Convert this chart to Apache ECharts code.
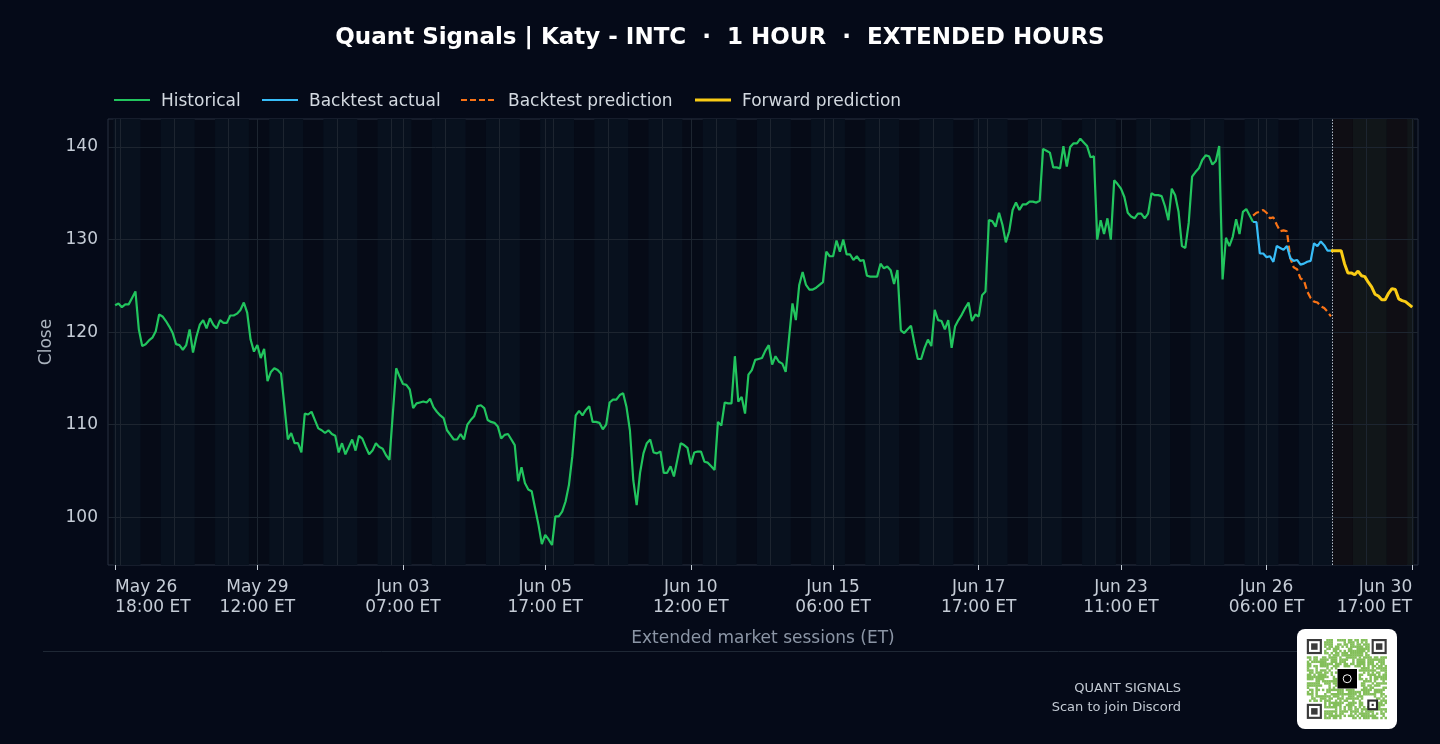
<!DOCTYPE html>
<html>
<head>
<meta charset="utf-8">
<title>Quant Signals | Katy - INTC</title>
<script src="https://cdn.jsdelivr.net/npm/echarts@6/dist/echarts.min.js"></script>
<style>
  html, body { margin: 0; padding: 0; background: #050a18; }
  #chart { width: 1440px; height: 744px; }
</style>
</head>
<body>
<div id="chart"></div>
<script>
// bar index 0 = May 26 18:00 ET, 16 hourly bars per day (04:00 - 19:00)
const historicalStart = 0
const historical = [
  122.9, 123.1, 122.7, 123.0, 123.0, 123.7, 124.4, 120.3, 118.5, 118.7,
  119.1, 119.4, 120.1, 121.9, 121.7, 121.2, 120.6, 119.9, 118.7, 118.6,
  118.1, 118.6, 120.3, 117.8, 119.5, 120.8, 121.3, 120.4, 121.5, 120.8,
  120.4, 121.3, 121.0, 121.0, 121.8, 121.8, 122.0, 122.4, 123.2, 122.1,
  119.2, 117.9, 118.6, 117.2, 118.2, 114.7, 115.7, 116.1, 115.9, 115.5,
  112.0, 108.4, 109.1, 108.0, 108.0, 107.0, 111.2, 111.1, 111.4, 110.5,
  109.6, 109.4, 109.1, 109.4, 109.0, 108.8, 107.0, 108.0, 106.8, 107.6,
  108.4, 107.2, 108.8, 108.5, 107.6, 106.8, 107.2, 108.0, 107.6, 107.4,
  106.7, 106.2, 111.2, 116.1, 115.2, 114.4, 114.3, 113.8, 111.8, 112.3,
  112.4, 112.5, 112.4, 112.8, 111.9, 111.4, 111.0, 110.7, 109.4, 108.9,
  108.4, 108.4, 109.0, 108.4, 110.0, 110.5, 110.9, 112.0, 112.1, 111.8,
  110.5, 110.3, 110.2, 109.8, 108.5, 108.9, 109.0, 108.4, 107.8, 103.9,
  105.4, 103.7, 103.0, 102.8, 101.0, 99.2, 97.1, 98.1, 97.6, 97.0,
  100.1, 100.1, 100.6, 101.7, 103.5, 106.6, 111.0, 111.5, 111.0, 111.6,
  112.0, 110.3, 110.3, 110.2, 109.5, 110.0, 112.4, 112.7, 112.7, 113.2,
  113.4, 111.9, 109.4, 104.0, 101.3, 104.8, 106.9, 108.0, 108.4, 107.0,
  106.9, 107.1, 104.8, 104.8, 105.5, 104.4, 106.2, 108.0, 107.8, 107.5,
  105.7, 107.0, 107.1, 107.1, 106.0, 105.9, 105.5, 105.1, 110.3, 109.9,
  112.4, 112.3, 112.3, 117.4, 112.5, 113.0, 111.2, 115.4, 115.9, 117.0,
  117.1, 117.2, 118.0, 118.6, 116.5, 117.4, 116.8, 116.6, 115.7, 119.4,
  123.1, 121.3, 125.1, 126.5, 125.1, 124.6, 124.6, 124.8, 125.1, 125.4,
  128.7, 128.2, 128.2, 129.9, 128.7, 130.0, 128.4, 128.4, 127.8, 128.2,
  127.7, 127.8, 126.1, 126.0, 126.0, 126.0, 127.4, 126.9, 127.1, 126.7,
  125.2, 126.7, 120.2, 119.9, 120.3, 120.7, 118.8, 117.1, 117.1, 118.3,
  119.2, 118.5, 122.4, 121.3, 121.2, 120.3, 121.3, 118.3, 120.6, 121.3,
  121.9, 122.6, 123.2, 121.2, 121.9, 121.7, 124.0, 124.4, 132.1, 132.0,
  131.4, 132.9, 131.6, 129.7, 130.9, 133.2, 134.0, 133.2, 133.8, 133.8,
  134.1, 134.1, 134.0, 134.2, 139.8, 139.6, 139.4, 137.8, 137.8, 137.7,
  140.1, 137.9, 140.0, 140.4, 140.4, 140.9, 140.5, 140.1, 138.9, 139.0,
  130.0, 132.1, 130.6, 132.3, 130.0, 136.4, 136.0, 135.5, 134.6, 132.9,
  132.5, 132.3, 132.8, 132.8, 132.3, 132.8, 135.0, 134.8, 134.8, 134.7,
  133.6, 132.1, 135.5, 134.8, 133.0, 129.3, 129.1, 131.8, 136.8, 137.3,
  137.7, 138.6, 139.1, 139.0, 138.1, 138.5, 140.1, 125.7, 130.2, 129.3,
  130.3, 132.2, 130.6, 133.0, 133.3, 132.6, 131.9
]

const backtestStart = 336
const backtestActual = [
  131.9, 131.9, 128.5, 128.5, 128.1, 128.2, 127.6, 129.3, 129.1, 128.9,
  129.3, 128.0, 127.7, 127.8, 127.3, 127.4, 127.6, 127.7, 129.6, 129.3,
  129.8, 129.4, 128.8, 128.8
]
const backtestPred = [
  132.6, 132.9, 133.0, 133.2, 132.9, 132.3, 132.4, 131.6, 130.9, 131.0,
  130.9, 128.0, 127.0, 126.8, 125.8, 125.6, 124.4, 123.7, 123.3, 123.2,
  122.8, 122.6, 122.2, 121.7
]

const forwardStart = 359
const forwardPred = [
  128.8, 128.8, 128.8, 128.8, 127.4, 126.4, 126.4, 126.2, 126.6, 126.1,
  126.0, 125.4, 124.9, 124.1, 123.9, 123.5, 123.5, 124.2, 124.7, 124.6,
  123.6, 123.4, 123.3, 123.0, 122.7
]

const xTickIdx = [0, 42, 85, 127, 170, 212, 255, 297, 340, 383]
const xTickLabels = [
  'May 26\n18:00 ET', 'May 29\n12:00 ET', 'Jun 03\n07:00 ET', 'Jun 05\n17:00 ET',
  'Jun 10\n12:00 ET', 'Jun 15\n06:00 ET', 'Jun 17\n17:00 ET', 'Jun 23\n11:00 ET',
  'Jun 26\n06:00 ET', 'Jun 30\n17:00 ET'
]
const yTicks = [100, 110, 120, 130, 140]

const lastIdx = 383
const nowIdx = 359.5

const COLORS = {
  bg: '#050a18',
  plot: '#060b17',
  grid: '#1d2530',
  frame: '#283140',
  tick: '#c5ccd6',
  hist: '#22c55e',
  actual: '#38bdf8',
  pred: '#f97316',
  fwd: '#facc15'
}

const GRID = { left: 108, top: 119, width: 1310, height: 446 }
const X_LABEL_MARGIN = 13

// session of a bar: 2 post-market bars on the first day, then 04-09 pre, 10-15 regular, 16-19 post
function sessionOf(i) {
  if (i < 2) return 'ext'
  const h = 4 + ((i - 2) % 16)
  return (h >= 10 && h < 16) ? 'reg' : 'ext'
}

function bandColor(kind, future) {
  if (future) return kind === 'reg' ? '#0f0e14' : '#111619'
  return kind === 'reg' ? null : '#08111e'
}

// build the shaded session bands
const bands = []
let segStart = 0
for (let i = 1; i <= lastIdx + 1; i++) {
  const prevKey = sessionOf(i - 1) + (i - 1 > nowIdx ? 'f' : '')
  const key = i <= lastIdx ? sessionOf(i) + (i > nowIdx ? 'f' : '') : null
  if (key !== prevKey) {
    const c = bandColor(sessionOf(i - 1), i - 1 > nowIdx)
    if (c) {
      bands.push([
        { xAxis: segStart - 0.5, itemStyle: { color: c } },
        { xAxis: i - 0.5 }
      ])
    }
    segStart = i
  }
}

// grid lines: major ticks, day boundaries, price levels
const gridLines = []
xTickIdx.forEach(v => gridLines.push({ xAxis: v }))
for (let b = 1.5; b < lastIdx; b += 16) gridLines.push({ xAxis: b })
yTicks.forEach(v => gridLines.push({ yAxis: v }))

const toPairs = (arr, start) => arr.map((v, i) => [start + i, v])

// legend drawn as graphic
const legendItems = [
  { name: 'Historical', color: COLORS.hist, x: 114, width: 2, dash: null },
  { name: 'Backtest actual', color: COLORS.actual, x: 262, width: 2, dash: null },
  { name: 'Backtest prediction', color: COLORS.pred, x: 461, width: 2, dash: [6, 3] },
  { name: 'Forward prediction', color: COLORS.fwd, x: 695, width: 3, dash: null }
]
const legendGraphics = []
legendItems.forEach(it => {
  legendGraphics.push({
    type: 'line',
    shape: { x1: it.x, y1: 100, x2: it.x + 36, y2: 100 },
    style: { stroke: it.color, lineWidth: it.width, lineDash: it.dash }
  })
  legendGraphics.push({
    type: 'text', x: it.x + 47, y: 102,
    style: { text: it.name, fill: '#d3d9e0', font: '17px "DejaVu Sans"', verticalAlign: 'middle' }
  })
})

// QR-like badge (decoration)
function qrGraphic() {
  const n = 37, size = 2.16, ox = 1306.8, oy = 639
  const children = [{
    type: 'rect', shape: { x: 1297, y: 629, width: 100, height: 100, r: 8 },
    style: { fill: '#ffffff' }
  }]
  const inFinder = (r, c) =>
    (r < 8 && c < 8) || (r < 8 && c > n - 9) || (r > n - 9 && c < 8)
  const inAlign = (r, c) => r >= 26 && r <= 30 && c >= 26 && c <= 30
  const inLogo = (r, c) => r >= 13 && r <= 22 && c >= 14 && c <= 23
  for (let r = 0; r < n; r++) {
    for (let c = 0; c < n; c++) {
      if (inFinder(r, c) || inAlign(r, c) || inLogo(r, c)) continue
      let h = Math.imul(r + 11, 374761393) ^ Math.imul(c + 7, 668265263)
      h = Math.imul(h ^ (h >>> 13), 1274126177)
      if (((h ^ (h >>> 16)) & 7) < 5) {
        children.push({
          type: 'rect',
          shape: { x: ox + c * size, y: oy + r * size, width: size + 0.3, height: size + 0.3 },
          style: { fill: '#84bf5b' }
        })
      }
    }
  }
  const finder = (r0, c0, k, dark) => {
    children.push({ type: 'rect', shape: { x: ox + c0 * size, y: oy + r0 * size, width: k * size, height: k * size }, style: { fill: dark } })
    children.push({ type: 'rect', shape: { x: ox + (c0 + 1) * size, y: oy + (r0 + 1) * size, width: (k - 2) * size, height: (k - 2) * size }, style: { fill: '#ffffff' } })
    children.push({ type: 'rect', shape: { x: ox + (c0 + 2) * size, y: oy + (r0 + 2) * size, width: (k - 4) * size, height: (k - 4) * size }, style: { fill: dark } })
  }
  finder(0, 0, 7, '#3a3a3a')
  finder(0, n - 7, 7, '#3a3a3a')
  finder(n - 7, 0, 7, '#3a3a3a')
  finder(28, 28, 5, '#2a2a2a')
  children.push({ type: 'rect', shape: { x: 1337.5, y: 669, width: 19.5, height: 19.5 }, style: { fill: '#000000' } })
  children.push({ type: 'circle', shape: { cx: 1347.2, cy: 678.7, r: 4 }, style: { fill: 'none', stroke: '#ffffff', lineWidth: 1 } })
  return { type: 'group', children }
}

const chart = echarts.init(document.getElementById('chart'), null, { renderer: 'canvas' })

const option = {
  backgroundColor: COLORS.bg,
  animation: false,
  textStyle: { fontFamily: 'DejaVu Sans' },
  title: {
    text: 'Quant Signals | Katy - INTC  \u00b7  1 HOUR  \u00b7  EXTENDED HOURS',
    left: 'center',
    top: 22,
    textStyle: { color: '#ffffff', fontSize: 23, fontWeight: 'bold', fontFamily: 'DejaVu Sans' }
  },
  grid: {
    left: GRID.left, top: GRID.top, width: GRID.width, height: GRID.height,
    outerBoundsMode: 'none',
    containLabel: false,
    show: true, backgroundColor: COLORS.plot,
    borderColor: COLORS.frame, borderWidth: 1
  },
  xAxis: {
    type: 'value',
    min: -2.1,
    max: 384.7,
    name: 'Extended market sessions (ET)',
    nameLocation: 'middle',
    nameGap: 65,
    nameTextStyle: { color: '#8b95a5', fontSize: 17 },
    axisLine: { show: false },
    splitLine: { show: false },
    axisTick: { customValues: xTickIdx, length: 5, lineStyle: { color: COLORS.tick } },
    axisLabel: {
      customValues: xTickIdx,
      // first and last labels are edge-aligned, drawn below as graphic text
      formatter: v => {
        const k = xTickIdx.indexOf(Math.round(v))
        return (k <= 0 || k === xTickIdx.length - 1) ? '' : xTickLabels[k]
      },
      color: COLORS.tick, fontSize: 17, lineHeight: 20, margin: X_LABEL_MARGIN
    }
  },
  yAxis: {
    type: 'value',
    min: 94.84,
    max: 143.03,
    name: 'Close',
    nameLocation: 'middle',
    nameGap: 50,
    nameTextStyle: { color: '#aab2bd', fontSize: 17 },
    axisLine: { show: false },
    splitLine: { show: false },
    axisTick: { show: true, customValues: yTicks, length: 5, lineStyle: { color: COLORS.tick } },
    axisLabel: { customValues: yTicks, color: COLORS.tick, fontSize: 17, margin: 10, padding: [4, 0, 0, 0] }
  },
  series: [
    {
      name: 'sessions', type: 'line', data: [], z: 1, silent: true,
      markArea: { silent: true, data: bands }
    },
    {
      name: 'gridlines', type: 'line', data: [], z: 2, silent: true,
      markLine: {
        silent: true, symbol: ['none', 'none'], label: { show: false },
        lineStyle: { color: COLORS.grid, width: 1, type: 'solid' },
        data: gridLines
      }
    },
    {
      name: 'now', type: 'line', data: [], z: 3, silent: true,
      markLine: {
        silent: true, symbol: ['none', 'none'], label: { show: false },
        lineStyle: { color: '#b3bcc8', width: 1, type: [1.5, 1.5] },
        data: [{ xAxis: nowIdx }]
      }
    },
    {
      name: 'Historical', type: 'line', z: 5, showSymbol: false,
      data: toPairs(historical, historicalStart),
      lineStyle: { color: COLORS.hist, width: 2.2 }
    },
    {
      name: 'Backtest prediction', type: 'line', z: 6, showSymbol: false,
      data: toPairs(backtestPred, backtestStart),
      lineStyle: { color: COLORS.pred, width: 2.2, type: [7, 3.5] }
    },
    {
      name: 'Backtest actual', type: 'line', z: 7, showSymbol: false,
      data: toPairs(backtestActual, backtestStart),
      lineStyle: { color: COLORS.actual, width: 2.2 }
    },
    {
      name: 'Forward prediction', type: 'line', z: 8, showSymbol: false,
      data: toPairs(forwardPred, forwardStart),
      lineStyle: { color: COLORS.fwd, width: 3 }
    }
  ],
  graphic: [
    ...legendGraphics,
    {
      type: 'line', shape: { x1: 43, y1: 651.5, x2: 1397, y2: 651.5 },
      style: { stroke: '#1f2835', lineWidth: 1 }
    },
    {
      type: 'text', x: 1181, y: 689,
      style: { text: 'QUANT SIGNALS', fill: '#c3cad3', font: '13px "DejaVu Sans"', align: 'right', verticalAlign: 'middle' }
    },
    {
      type: 'text', x: 1181, y: 708,
      style: { text: 'Scan to join Discord', fill: '#c3cad3', font: '13px "DejaVu Sans"', align: 'right', verticalAlign: 'middle' }
    },
    qrGraphic()
  ]
}

chart.setOption(option)

// edge tick labels: first one left-aligned, last one right-aligned to their ticks
const firstX = chart.convertToPixel({ xAxisIndex: 0 }, xTickIdx[0])
const lastX = chart.convertToPixel({ xAxisIndex: 0 }, xTickIdx[xTickIdx.length - 1])
const labelTop = GRID.top + GRID.height + X_LABEL_MARGIN
const edgeLabelStyle = { fill: COLORS.tick, font: '17px "DejaVu Sans"', verticalAlign: 'top', lineHeight: 20 }
chart.setOption({
  graphic: [
    {
      id: 'xFirst', type: 'text', x: firstX, y: labelTop,
      style: Object.assign({ text: xTickLabels[0], align: 'left' }, edgeLabelStyle)
    },
    {
      id: 'xLast', type: 'text', x: lastX, y: labelTop,
      style: Object.assign({ text: xTickLabels[xTickLabels.length - 1], align: 'right' }, edgeLabelStyle)
    }
  ]
})
</script>
</body>
</html>
